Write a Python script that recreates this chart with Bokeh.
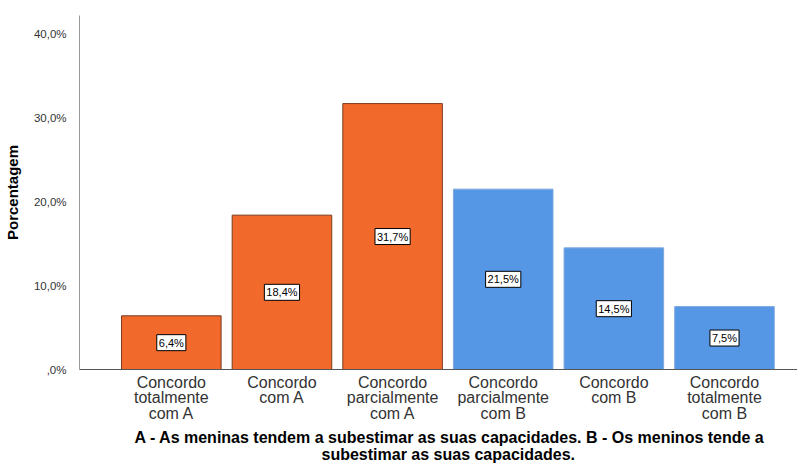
from bokeh.plotting import figure
from bokeh.models import ColumnDataSource, FixedTicker, Range1d, Title
from bokeh.core.properties import value
from bokeh.embed import file_html
from bokeh.resources import INLINE

categories = ["Concordo\ntotalmente\ncom A", "Concordo\ncom A", "Concordo\nparcialmente\ncom A",
              "Concordo\nparcialmente\ncom B", "Concordo\ncom B", "Concordo\ntotalmente\ncom B"]
values = [6.4, 18.4, 31.7, 21.5, 14.5, 7.5]
bar_labels = ["6,4%", "18,4%", "31,7%", "21,5%", "14,5%", "7,5%"]
y_ticks = [0, 10, 20, 30, 40]
y_tick_labels = [",0%", "10,0%", "20,0%", "30,0%", "40,0%"]
title_lines = ["A - As meninas tendem a subestimar as suas capacidades. B - Os meninos tende a",
               "subestimar as suas capacidades."]

ORANGE = "#F2692C"
BLUE = "#5596E5"
fills = [ORANGE, ORANGE, ORANGE, BLUE, BLUE, BLUE]
outlines = ["#7A3A1E", "#7A3A1E", "#7A3A1E", "#7FA9DD", "#7FA9DD", "#7FA9DD"]

xs = list(range(len(values)))
src = ColumnDataSource(dict(x=xs, top=values, mid=[v / 2 for v in values], lab=bar_labels,
                            fill=fills, line=outlines))

p = figure(frame_width=718, frame_height=354, output_backend="svg", toolbar_location=None,
           x_range=Range1d(-0.83, 5.66), y_range=Range1d(0, 42.2),
           min_border_left=72, min_border_right=0, min_border_top=15, min_border_bottom=95)
p.outline_line_color = None
p.xgrid.visible = False
p.ygrid.visible = False
p.background_fill_color = "white"

p.vbar(x="x", top="top", width=0.9, bottom=0, source=src, fill_color="fill",
       line_color="line", line_width=1)

p.text(x="x", y="mid", text="lab", source=src, text_align="center",
       text_baseline="middle", text_font=value("Liberation Sans"), text_font_size="11px",
       text_color="black", background_fill_color="white",
       border_line_color="black", border_line_width=1, padding=2)

p.xaxis.ticker = FixedTicker(ticks=xs)
p.xaxis.major_label_overrides = {i: c for i, c in enumerate(categories)}
p.xaxis.major_label_text_font = "Liberation Sans"
p.xaxis.major_label_text_font_size = "16px"
p.xaxis.major_label_text_color = "#333333"
p.xaxis.major_label_text_line_height = 0.92
p.xaxis.major_label_standoff = 4
p.xaxis.major_tick_line_color = None
p.xaxis.major_tick_out = 0
p.xaxis.minor_tick_line_color = None
p.xaxis.axis_line_color = "#555555"

p.yaxis.ticker = FixedTicker(ticks=y_ticks)
p.yaxis.major_label_overrides = {t: l for t, l in zip(y_ticks, y_tick_labels)}
p.yaxis.major_label_text_font = "Liberation Sans"
p.yaxis.major_label_text_font_size = "11.5px"
p.yaxis.major_label_text_color = "#333333"
p.yaxis.major_label_standoff = 7
p.yaxis.major_tick_line_color = None
p.yaxis.minor_tick_line_color = None
p.yaxis.axis_line_color = "#999999"
p.yaxis.axis_label = "Porcentagem"
p.yaxis.axis_label_text_font = "Liberation Sans"
p.yaxis.axis_label_text_font_size = "15px"
p.yaxis.axis_label_text_font_style = "bold"
p.yaxis.axis_label_text_color = "black"
p.yaxis.axis_label_standoff = 10

for line, sd, off in zip(title_lines, [5, -9], [55, 242]):
    p.add_layout(Title(text=line, align="left", offset=off, standoff=sd,
                       text_font="Liberation Sans", text_font_size="16px",
                       text_font_style="bold", text_color="black", text_line_height=1.0), "below")

open("out.html", "w").write(file_html(p, INLINE))
